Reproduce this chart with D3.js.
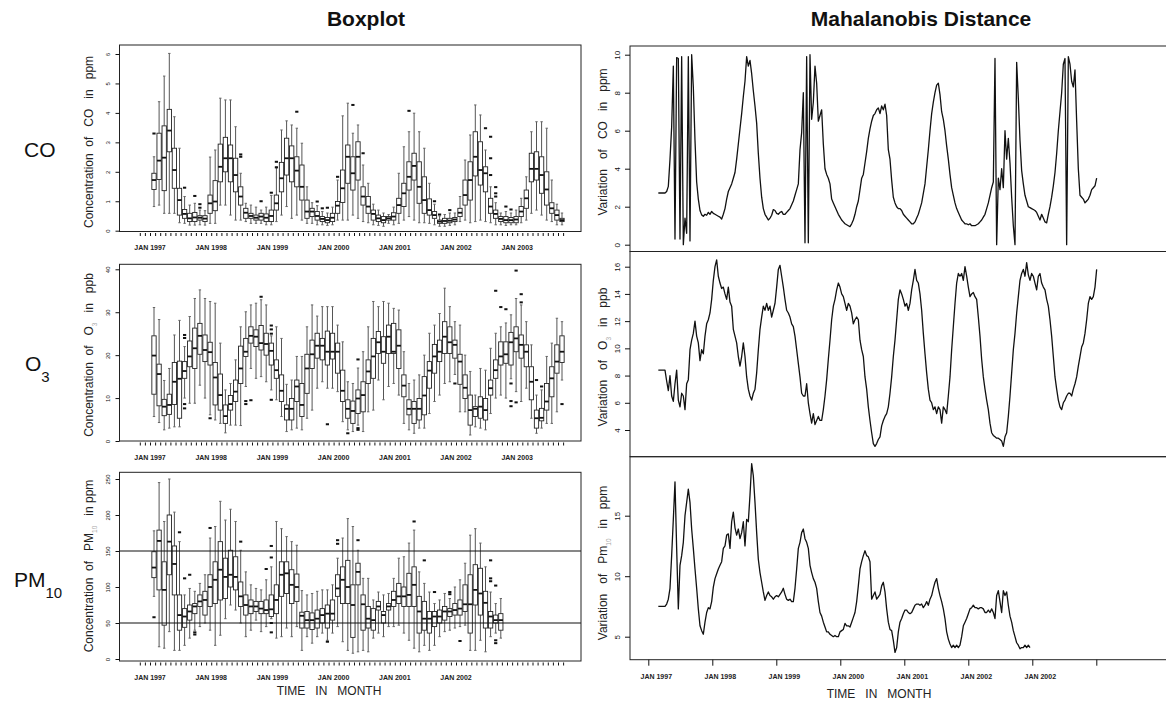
<!DOCTYPE html>
<html>
<head>
<meta charset="utf-8">
<script src="https://cdn.jsdelivr.net/npm/d3@7/dist/d3.min.js"></script>
<style>
html, body { margin: 0; padding: 0; background: #fff; }
svg { display: block; font-family: "Liberation Sans", Arial, Helvetica, sans-serif; }
.pre { white-space: pre; }
</style>
</head>
<body>
<svg id="fig" width="1166" height="703"></svg>
<script>
// ---------- Monthly boxplot statistics (month 0 = Jan 1997) ----------
// CO, ppm (Jan 1997 - Sep 2003)
const coLow = [0.82,0.87,0.59,0.59,0.59,0.27,0.25,0.19,0.19,0.20,0.19,0.25,
  0.25,0.87,0.87,0.53,0.36,0.36,0.31,0.25,0.25,0.25,0.20,0.20,
  0.31,0.53,0.82,0.42,0.53,0.36,0.25,0.25,0.20,0.20,0.18,0.20,
  0.36,0.36,0.36,0.53,0.42,0.31,0.27,0.20,0.18,0.15,0.25,0.20,
  0.25,0.36,0.48,0.36,0.27,0.27,0.25,0.20,0.15,0.15,0.18,0.20,
  0.31,0.36,0.27,0.31,0.36,0.31,0.27,0.20,0.20,0.18,0.20,0.20,
  0.27,0.36,0.59,0.70,0.53,0.36,0.31,0.20,0.20];
const coQ1 = [1.40,1.74,1.36,2.68,1.44,0.53,0.42,0.31,0.31,0.36,0.31,0.59,
  0.68,1.66,2.00,1.66,1.32,0.87,0.42,0.42,0.36,0.36,0.31,0.31,
  0.70,1.32,1.89,1.66,1.49,1.04,0.42,0.48,0.36,0.31,0.27,0.31,
  0.59,0.96,1.61,1.38,1.72,0.87,0.59,0.36,0.31,0.27,0.36,0.36,
  0.59,0.82,1.38,1.72,0.93,0.59,0.53,0.42,0.25,0.25,0.27,0.31,
  0.48,0.87,1.04,1.86,1.55,1.32,0.59,0.42,0.31,0.27,0.27,0.27,
  0.48,0.76,1.66,1.72,1.27,0.87,0.59,0.36,0.31];
const coMed = [1.72,2.38,2.48,3.40,2.06,1.04,0.57,0.42,0.45,0.44,0.41,0.93,
  0.99,2.17,2.46,2.46,1.89,1.16,0.61,0.50,0.44,0.48,0.44,0.50,
  0.93,1.78,2.46,2.46,2.04,1.49,0.65,0.65,0.50,0.40,0.36,0.44,
  0.85,1.44,2.51,1.95,2.51,1.16,0.82,0.57,0.42,0.36,0.42,0.48,
  0.87,1.27,1.83,2.20,1.49,1.04,0.70,0.53,0.31,0.33,0.34,0.38,
  0.61,1.21,1.72,2.51,2.06,1.95,0.82,0.57,0.40,0.36,0.36,0.38,
  0.65,1.10,2.10,2.10,1.89,1.40,0.76,0.53,0.36];
const coQ3 = [1.95,3.31,3.56,4.12,2.80,1.44,0.72,0.59,0.62,0.51,0.51,1.21,
  1.70,2.94,3.17,2.91,2.46,1.49,0.76,0.59,0.53,0.59,0.57,0.70,
  1.21,2.32,3.14,2.88,2.51,2.23,1.04,0.76,0.65,0.48,0.45,0.59,
  0.99,2.06,2.91,2.51,3.02,1.49,1.16,0.70,0.53,0.48,0.48,0.61,
  1.10,1.61,2.34,2.63,2.34,1.83,1.08,0.65,0.36,0.42,0.42,0.45,
  0.76,1.72,2.34,3.36,3.02,2.17,1.10,0.70,0.48,0.48,0.45,0.48,
  0.82,1.38,2.63,2.68,2.51,2.00,0.95,0.70,0.42];
const coHigh = [2.51,4.38,5.25,6.02,3.87,2.80,1.16,0.87,0.93,0.70,0.68,2.50,
  2.74,4.50,4.44,4.44,3.53,1.95,0.93,0.87,0.80,0.70,0.80,1.20,
  2.17,3.42,3.73,3.59,3.48,2.97,1.49,0.95,0.85,0.65,0.60,0.80,
  1.72,3.90,4.33,3.31,3.59,2.23,1.61,0.90,0.70,0.60,0.55,0.80,
  1.95,2.85,3.36,3.99,3.36,2.80,1.61,0.90,0.50,0.55,0.60,0.60,
  1.16,2.40,3.25,4.27,3.93,2.74,1.49,0.95,0.60,0.65,0.60,0.70,
  1.10,1.83,3.36,3.70,3.70,3.48,1.72,0.90,0.60];
const coOutliers = [[0,3.30],[6,1.46],[8,1.18],[9,0.90],[9,0.78],[17,2.59],[17,2.51],
  [21,1.00],[23,1.29],[24,2.34],[24,2.15],[28,4.04],[32,0.99],[33,0.76],[34,0.78],
  [36,1.83],[39,4.27],[41,2.63],[50,4.07],[55,1.00],[56,0.55],[58,0.70],
  [65,3.48],[66,3.19],[66,2.46],[66,1.89],[67,1.48],[67,1.27],[67,1.16],[69,0.82],[70,0.72]];

// O3, ppb (Jan 1997 - Sep 2003)
const o3Low = [5.7,4.3,2.6,3.0,3.3,3.3,10.0,8.8,8.8,13.0,10.0,6.1,
  4.9,4.1,1.9,3.7,3.7,3.6,12.7,16.9,14.6,15.0,13.8,11.9,
  9.6,5.7,2.2,2.6,3.0,2.6,5.3,7.2,12.3,13.8,12.3,12.3,
  11.5,4.5,2.6,2.2,3.7,2.2,6.8,7.2,14.2,9.6,12.7,13.4,
  10.7,4.1,2.6,1.8,3.0,3.0,6.4,9.2,10.7,13.4,13.8,15.5,
  6.8,6.8,1.4,3.3,3.0,2.6,6.4,10.0,10.7,10.0,14.5,11.5,
  9.2,12.3,5.3,1.8,3.0,4.1,4.1,6.8,14.2];
const o3Q1 = [10.9,8.2,5.9,6.2,8.5,5.3,14.6,17.3,16.9,20.2,18.5,17.7,
  8.4,7.2,4.1,7.2,9.2,13.4,19.7,22.8,22.0,21.2,20.0,17.7,
  14.6,9.2,4.9,4.9,9.2,5.7,11.1,16.9,19.3,18.9,17.7,19.1,
  15.8,9.2,5.3,4.1,6.4,6.8,13.4,14.6,20.4,18.1,20.4,20.4,
  16.9,10.3,6.1,4.1,4.9,6.1,12.3,15.8,18.5,20.4,20.4,19.3,
  13.2,9.9,3.7,5.7,5.3,4.9,10.7,14.6,17.7,18.1,17.7,20.8,
  19.3,17.3,9.6,3.0,4.7,7.2,10.3,15.8,18.3];
const o3Med = [19.9,15.6,8.0,8.4,13.8,14.5,16.3,19.7,21.6,24.5,21.2,20.7,
  14.8,10.7,5.8,8.6,11.5,16.9,20.8,24.5,24.3,22.8,22.6,21.0,
  16.5,11.7,7.5,7.5,12.7,8.4,16.9,20.2,22.2,22.2,20.8,20.8,
  20.8,11.7,7.5,7.0,9.9,10.7,16.2,19.7,23.0,20.8,24.3,20.8,
  22.2,12.9,7.5,7.5,7.5,10.6,16.4,19.7,20.8,24.3,23.0,22.4,
  18.5,12.4,7.2,7.5,8.0,7.2,12.3,16.5,19.7,20.2,23.0,23.9,
  22.4,20.8,13.8,5.3,5.4,9.2,14.6,18.5,20.8];
const o3Q3 = [24.5,17.9,9.7,10.9,18.3,18.6,18.5,23.3,26.3,27.4,24.7,23.0,
  18.3,15.6,8.4,10.6,14.2,22.1,23.9,26.6,25.9,26.9,25.1,22.8,
  18.9,15.4,8.4,9.9,14.2,13.4,20.2,23.5,25.1,23.9,25.6,25.1,
  22.8,16.5,9.6,9.3,11.9,13.8,18.9,23.9,25.5,24.3,27.0,27.4,
  25.9,15.4,9.6,9.2,9.9,15.0,18.5,22.5,23.5,27.8,26.6,23.5,
  20.2,15.4,10.7,8.0,10.3,9.9,14.2,18.9,23.1,23.1,25.3,26.6,
  24.7,22.4,17.3,7.2,7.6,13.4,17.3,22.4,24.5];
const o3High = [31.1,28.3,14.1,16.9,24.7,28.1,22.0,29.0,33.2,35.2,33.2,32.5,
  32.1,22.8,11.9,13.4,18.9,26.6,30.1,31.7,32.1,32.9,31.7,24.5,
  26.6,23.9,13.2,14.2,19.7,19.7,26.6,31.7,29.1,31.3,31.3,31.3,
  27.0,23.1,13.8,13.4,17.0,20.8,26.6,32.5,31.3,32.5,32.1,30.9,
  30.5,20.8,13.4,14.2,15.4,20.0,25.1,27.0,29.7,35.6,31.3,27.8,
  27.0,20.0,16.2,10.7,16.9,16.5,21.6,25.1,26.6,27.5,29.4,33.2,
  31.7,27.8,22.4,10.7,11.9,19.7,22.8,28.6,27.8];
const o3Outliers = [[6,24.7],[6,24.0],[6,8.6],[6,7.6],[11,5.3],[18,9.3],[18,8.6],[19,9.5],
  [21,33.6],[23,26.9],[23,26.0],[23,25.0],[23,9.6],[34,3.9],[38,1.8],[40,19.0],[40,3.0],[40,2.6],
  [59,13.4],[67,35.0],[68,31.2],[69,30.7],[70,13.4],[70,9.3],[70,8.1],[71,39.7],[71,9.0],
  [72,34.2],[72,32.3],[75,14.2],[76,12.7],[80,8.6]];

// PM10 (Jan 1997 - Sep 2002)
const pmLow = [87,17,15,38,12,12,19,29,40,45,50,40,
  19,33,56,75,68,50,31,40,54,38,45,56,
  29,31,43,31,45,12,31,22,31,36,26,36,
  45,24,12,8,10,12,10,29,36,31,45,45,
  47,36,26,15,10,19,12,19,31,38,40,43,
  45,47,12,12,26,10,31,36,29];
const pmQ1 = [113,96,47,117,89,40,44,54,63,73,61,73,
  77,82,84,100,96,73,61,63,66,63,63,59,
  63,87,91,77,80,43,43,41,43,50,43,54,
  87,77,77,30,103,40,43,40,68,50,68,73,
  77,73,73,73,36,40,36,45,50,54,59,61,
  61,66,36,75,61,43,43,50,40];
const pmMed = [127,164,96,163,132,61,59,66,73,80,82,100,
  110,124,114,117,114,87,75,73,73,70,68,69,
  82,117,119,103,100,60,54,54,56,61,63,63,
  98,110,100,75,121,76,56,54,73,61,73,82,
  87,87,89,103,66,56,56,59,59,66,66,68,
  70,76,76,96,91,78,59,54,54];
const pmQ3 = [149,179,135,200,157,89,70,75,77,89,94,117,
  135,163,140,151,142,107,89,82,80,80,82,89,
  103,135,135,124,118,65,66,64,68,70,75,82,
  117,128,137,103,133,89,73,70,80,66,77,94,
  105,100,119,128,87,80,66,66,68,73,70,77,
  82,103,117,131,126,94,66,61,63];
const pmHigh = [178,245,191,250,204,163,89,98,94,105,117,168,
  184,219,193,208,191,151,121,103,98,96,110,128,
  191,181,170,163,158,95,89,91,94,96,96,103,
  140,168,195,184,151,112,112,82,93,89,91,112,
  140,142,161,179,121,105,93,77,82,91,84,100,
  110,133,172,181,161,128,93,77,84];
const pmOutliers = [[0,58],[5,176],[6,112],[7,117],[8,37],[8,34],[11,182],[17,163],[22,125],
  [23,157],[23,141],[23,50],[23,37],[34,24],[36,165],[36,160],[40,165],[51,191],[53,137],
  [55,93],[58,93],[58,90],[60,25],[66,137],[66,112],[66,108],[67,102],[67,26],[67,22]];
const pmLimits = [50, 150];

// ---------- Mahalanobis distance series (sampled every 0.3125 month) ----------
const distStartMonth = 1.88;
const distStepMonths = 0.3125;
const coDistance = [2.72,2.72,2.72,2.72,2.72,2.8,3.07,4.5,6.2,9.4,
  0.3,9.85,9.8,0.3,9.9,0.0,1.4,0.6,9.9,0.2,
  10.0,8.3,5.5,3.3,2.4,1.8,1.57,1.5,1.6,1.55,
  1.7,1.6,1.75,1.65,1.6,1.55,1.5,1.45,1.35,1.6,
  1.9,2.4,2.8,3.0,3.2,3.5,3.8,4.5,5.3,6.1,
  6.9,7.8,8.6,9.9,9.4,9.7,9.0,8.1,7.3,6.4,
  4.8,3.5,2.5,1.9,1.6,1.45,1.3,1.4,1.55,1.85,
  1.8,1.65,1.6,1.7,1.75,1.6,1.6,1.7,1.8,1.9,
  2.1,2.3,2.6,2.9,3.2,5.0,5.9,8.0,0.1,9.9,
  0.1,10.0,6.6,7.5,9.4,8.5,6.5,6.8,7.1,5.3,
  4.0,3.7,3.5,3.2,2.4,2.2,2.0,1.8,1.6,1.45,
  1.3,1.2,1.1,1.05,1.0,0.95,1.1,1.3,1.6,2.0,
  2.3,2.9,3.5,3.7,4.3,4.9,5.6,6.1,6.5,6.8,
  6.9,7.1,7.2,6.9,7.3,7.1,7.4,6.8,5.0,4.5,
  3.4,2.5,2.2,2.0,1.9,1.9,1.8,1.6,1.5,1.4,
  1.3,1.2,1.1,1.1,1.2,1.4,1.6,1.9,2.2,2.7,
  3.2,4.1,5.0,6.0,6.9,7.5,8.0,8.4,8.5,7.9,
  7.0,6.6,6.0,5.2,4.5,3.7,3.0,2.6,2.2,1.9,
  1.7,1.5,1.3,1.2,1.1,1.1,1.05,1.1,1.0,1.0,
  1.0,1.05,1.1,1.2,1.3,1.45,1.6,1.9,2.2,2.6,
  3.0,3.3,9.8,0.0,3.5,2.9,4.0,3.0,6.0,4.5,
  5.6,4.3,2.5,1.0,0.0,9.6,7.7,5.5,3.9,3.2,
  2.6,2.3,2.0,1.95,1.9,1.85,1.8,1.7,1.5,1.3,
  1.6,1.4,1.2,1.15,1.6,2.0,2.5,3.1,3.8,4.8,
  6.0,7.0,8.0,9.5,9.8,0.0,9.9,9.5,8.6,8.3,
  9.2,6.5,4.0,2.6,2.5,2.4,2.2,2.3,2.4,2.6,
  2.9,3.0,3.1,3.5];
const o3Distance = [8.4,8.4,8.4,8.4,8.4,7.6,6.9,8.0,6.5,6.1,
  7.4,8.4,6.2,5.7,6.7,6.5,5.5,7.4,7.7,9.9,
  10.6,11.1,12.0,10.9,10.4,9.1,9.9,9.6,10.9,11.8,
  12.1,12.6,13.6,15.0,16.0,16.5,15.3,14.8,14.4,14.5,
  14.0,13.6,14.5,13.4,13.1,11.4,10.9,10.4,9.4,8.7,
  9.4,10.4,9.4,7.9,7.0,6.5,6.2,6.7,7.0,8.2,
  9.9,11.4,12.3,13.1,12.8,13.3,12.8,13.1,12.3,12.8,
  13.3,14.5,15.8,16.1,15.3,14.5,13.6,12.8,12.6,12.3,
  11.8,11.6,10.9,9.9,8.9,7.9,6.7,6.5,6.5,7.4,
  6.0,5.2,4.5,5.2,4.4,4.7,5.0,4.7,4.7,5.5,
  6.5,7.7,9.2,10.6,12.1,13.1,13.6,14.3,14.8,14.5,
  14.0,13.8,13.3,12.8,13.3,13.1,12.6,11.8,12.1,12.3,
  12.1,10.6,9.9,9.4,7.9,7.0,5.7,4.7,3.8,3.0,
  2.8,3.0,3.3,3.5,4.3,4.7,5.0,5.2,5.7,6.7,
  7.9,9.4,10.6,12.1,13.6,14.3,14.0,13.6,13.1,13.3,
  12.8,13.3,14.3,15.0,15.8,15.0,14.8,14.0,12.8,11.1,
  9.6,8.2,7.0,6.2,6.0,5.5,5.7,5.2,5.7,5.5,
  4.5,5.7,5.5,5.2,6.5,7.9,9.9,11.6,13.3,14.8,
  15.5,15.3,15.5,15.0,16.0,15.3,14.5,13.8,14.0,14.1,
  13.8,13.6,12.3,10.9,9.2,7.9,7.0,6.2,5.5,4.5,
  3.8,3.6,3.5,3.4,3.4,3.3,3.2,2.8,3.5,3.8,
  5.0,6.5,8.2,9.9,11.1,12.6,13.8,15.0,15.5,15.8,
  15.3,16.3,15.4,15.0,15.5,15.3,14.8,14.3,15.3,15.5,
  14.8,14.5,14.3,13.6,13.1,12.1,10.9,9.4,7.9,7.0,
  6.2,5.7,5.5,6.0,6.2,6.5,6.7,6.7,6.5,7.0,
  7.4,7.9,8.7,9.4,10.1,10.4,11.1,12.1,13.3,13.8,
  13.6,13.8,14.5,15.8];
const pmDistance = [7.5,7.5,7.5,7.5,7.5,7.7,8.1,9.0,11.7,14.7,
  17.8,12.3,7.3,10.9,11.7,12.8,15.0,16.1,17.2,16.1,
  13.9,12.3,10.6,9.0,7.3,5.9,5.5,5.2,6.2,7.0,
  7.4,7.3,7.9,9.1,9.8,10.2,10.6,10.9,11.2,12.3,
  12.5,13.4,13.5,12.3,14.5,15.3,14.0,13.4,13.9,13.1,
  13.6,14.5,12.5,14.7,14.5,16.7,19.3,18.3,16.1,13.6,
  11.4,10.3,9.5,8.7,8.0,8.4,8.7,8.4,8.3,8.1,
  8.3,8.4,8.3,8.5,8.7,9.0,8.5,8.1,8.0,8.1,
  7.9,7.9,9.0,10.6,12.3,12.8,13.6,13.9,13.1,12.8,
  12.3,10.9,10.3,9.8,9.5,9.0,7.9,7.0,6.7,6.2,
  5.8,5.4,5.4,5.2,5.1,5.0,5.1,5.0,5.0,5.4,
  5.5,5.6,6.1,5.9,5.9,5.8,6.2,6.6,7.0,7.9,
  9.2,10.6,11.2,11.7,12.1,11.7,11.6,11.2,8.1,8.4,
  8.7,8.1,8.3,8.5,9.2,9.5,8.7,7.3,6.2,5.6,
  5.5,4.7,3.7,4.1,5.4,6.2,6.5,6.9,7.2,7.2,
  7.0,6.9,7.0,7.3,7.6,7.7,7.7,7.6,7.7,7.4,
  7.6,7.9,7.6,8.1,8.4,9.0,9.5,9.8,9.0,8.4,
  7.9,7.3,6.5,5.4,4.8,4.4,4.1,4.3,4.1,4.3,
  4.1,4.3,5.0,5.9,6.2,6.5,6.9,7.3,7.4,7.6,
  7.4,7.4,7.3,7.4,7.4,7.3,7.0,7.0,7.2,7.0,
  7.3,7.0,6.5,8.4,8.8,7.9,7.0,8.8,8.4,8.7,
  7.6,6.7,6.2,5.5,5.0,4.5,4.3,4.0,4.1,4.1,
  4.3,4.1,4.3,4.1];

// ---------- Axis labels ----------
const leftYearLabels = ["JAN 1997","JAN 1998","JAN 1999","JAN 2000","JAN 2001","JAN 2002","JAN 2003"];
const pmYearLabels = ["JAN 1997","JAN 1998","JAN 1999","JAN 2000","JAN 2001","JAN 2002"];
const rightYearLabels = ["JAN 1997","JAN 1998","JAN 1999","JAN 2000","JAN 2001","JAN 2002","JAN 2002",""];
const coTicks = [0,1,2,3,4,5,6];
const o3Ticks = [0,10,20,30,40];
const pmTicks = [0,50,100,150,200,250];
const coDistTicks = [0,2,4,6,8,10];
const o3DistTicks = [4,6,8,10,12,14,16];
const pmDistTicks = [5,10,15];

// ---------- Layout ----------
const svg = d3.select("#fig");
const INK = "#111";
const L = { x0: 119.5, x1: 581 };
const R = { x0: 630, x1: 1190 };

const boxX = d3.scaleLinear().domain([0, 80]).range([154, 562]);
const monthTickX = d3.scaleLinear().domain([0, 80]).range([150, 558]);
const distX = d3.scaleLinear().domain([0, 84]).range([648.3, 1096.3]);

function rowsOf(lo, q1, med, q3, hi) {
  return med.map((m, i) => ({ i, lo: lo[i], q1: q1[i], med: m, q3: q3[i], hi: hi[i] }));
}

function styleAxisText(sel, size) {
  sel.attr("font-family", null).attr("font-size", null);
  sel.selectAll("text").attr("font-size", size).attr("fill", INK);
  sel.selectAll("line").attr("stroke", INK);
}

function addTitle(g, x, y, parts, size) {
  const t = g.append("text").attr("class", "pre")
    .attr("transform", `translate(${x},${y}) rotate(-90)`)
    .attr("text-anchor", "middle").attr("font-size", size).attr("fill", "#222");
  parts.forEach(p => {
    const s = t.append("tspan").text(p.t);
    if (p.sub) s.attr("font-size", 6.5).attr("fill", "#aaa").attr("baseline-shift", "sub");
  });
}

function drawBoxPanel(cfg) {
  const g = svg.append("g");
  const y = d3.scaleLinear().domain(cfg.yDomain).range(cfg.yRange);
  const rows = rowsOf(cfg.lo, cfg.q1, cfg.med, cfg.q3, cfg.hi);
  const bw = 4.3, cw = 2.4;

  const box = g.selectAll("g.box").data(rows).join("g").attr("class", "box");
  box.append("line").attr("x1", d => boxX(d.i)).attr("x2", d => boxX(d.i))
    .attr("y1", d => y(d.hi)).attr("y2", d => y(d.q3)).attr("stroke", "#555").attr("stroke-width", 1);
  box.append("line").attr("x1", d => boxX(d.i)).attr("x2", d => boxX(d.i))
    .attr("y1", d => y(d.q1)).attr("y2", d => y(d.lo)).attr("stroke", "#555").attr("stroke-width", 1);
  box.append("line").attr("x1", d => boxX(d.i) - cw / 2).attr("x2", d => boxX(d.i) + cw / 2)
    .attr("y1", d => y(d.hi)).attr("y2", d => y(d.hi)).attr("stroke", "#666");
  box.append("line").attr("x1", d => boxX(d.i) - cw / 2).attr("x2", d => boxX(d.i) + cw / 2)
    .attr("y1", d => y(d.lo)).attr("y2", d => y(d.lo)).attr("stroke", "#666");
  box.append("rect").attr("x", d => boxX(d.i) - bw / 2).attr("y", d => y(d.q3))
    .attr("width", bw).attr("height", d => Math.max(1, y(d.q1) - y(d.q3)))
    .attr("fill", "#fff").attr("stroke", "#222").attr("stroke-width", 0.9);
  box.append("line").attr("x1", d => boxX(d.i) - bw / 2).attr("x2", d => boxX(d.i) + bw / 2)
    .attr("y1", d => y(d.med)).attr("y2", d => y(d.med)).attr("stroke", INK).attr("stroke-width", 1.8);

  g.selectAll("rect.out").data(cfg.out).join("rect").attr("class", "out")
    .attr("x", d => boxX(d[0]) - 1.6).attr("y", d => y(d[1]) - 1)
    .attr("width", 3.2).attr("height", 2).attr("fill", INK);

  (cfg.refLines || []).forEach(v => {
    g.append("line").attr("x1", L.x0).attr("x2", L.x1).attr("y1", y(v)).attr("y2", y(v))
      .attr("stroke", INK).attr("stroke-width", 1.1);
  });

  // frame
  g.append("rect").attr("x", L.x0).attr("y", cfg.top).attr("width", L.x1 - L.x0)
    .attr("height", cfg.bottom - cfg.top).attr("fill", "none").attr("stroke", "#222").attr("stroke-width", 1);

  // y axis with rotated labels
  const ya = g.append("g").attr("transform", `translate(${L.x0},0)`)
    .call(d3.axisLeft(y).tickValues(cfg.ticks).tickSize(4).tickFormat(d3.format("d")));
  ya.select(".domain").remove();
  styleAxisText(ya, 6);
  ya.selectAll("text").attr("x", 0).attr("y", 0).attr("dy", 0).attr("text-anchor", "middle")
    .attr("transform", "translate(-9.5,0) rotate(-90)");

  // monthly ticks and year labels
  const xa = g.append("g").attr("transform", `translate(0,${cfg.bottom + 1.5})`)
    .call(d3.axisBottom(monthTickX).tickValues(d3.range(-2, 82)).tickSize(3).tickFormat(""));
  xa.select(".domain").remove();
  styleAxisText(xa, 7);
  g.selectAll("text.yr").data(cfg.yearLabels).join("text").attr("class", "yr")
    .attr("x", (d, k) => monthTickX(k * 12)).attr("y", cfg.bottom + 18.5)
    .attr("text-anchor", "middle").attr("font-size", 7).attr("font-weight", "bold")
    .attr("fill", "#222").text(d => d);

  addTitle(g, 93, cfg.titleY, cfg.title, 12);
}

function drawDistancePanel(cfg) {
  const g = svg.append("g");
  const y = d3.scaleLinear().domain(cfg.yDomain).range(cfg.yRange);
  g.append("rect").attr("x", R.x0).attr("y", cfg.top).attr("width", R.x1 - R.x0)
    .attr("height", cfg.bottom - cfg.top).attr("fill", "none").attr("stroke", "#222").attr("stroke-width", 1);

  const line = d3.line()
    .x((d, i) => distX(distStartMonth + i * distStepMonths))
    .y(d => y(d));
  g.append("path").datum(cfg.values).attr("d", line)
    .attr("fill", "none").attr("stroke", INK).attr("stroke-width", 1.3).attr("stroke-linejoin", "round");

  const ya = g.append("g").attr("transform", `translate(${R.x0},0)`)
    .call(d3.axisLeft(y).tickValues(cfg.ticks).tickSize(5).tickFormat(d3.format("d")));
  ya.select(".domain").remove();
  styleAxisText(ya, 8);
  ya.selectAll("text").attr("x", 0).attr("y", 0).attr("dy", 0).attr("text-anchor", "middle")
    .attr("transform", "translate(-10.5,0) rotate(-90)");

  addTitle(g, 607, cfg.titleY, cfg.title, 12);

  if (cfg.xAxis) {
    const xa = g.append("g").attr("transform", `translate(0,${cfg.bottom})`)
      .call(d3.axisBottom(distX).tickValues(d3.range(0, 85, 12)).tickSize(6).tickFormat(""));
    xa.select(".domain").remove();
    styleAxisText(xa, 7);
    g.selectAll("text.yr").data(rightYearLabels).join("text").attr("class", "yr")
      .attr("x", (d, k) => distX(k * 12) + 8).attr("y", cfg.bottom + 19)
      .attr("text-anchor", "middle").attr("font-size", 7).attr("font-weight", "bold")
      .attr("fill", "#222").text(d => d);
  }
}

// ---------- Left column: monthly boxplots ----------
drawBoxPanel({
  top: 45, bottom: 231.5, yDomain: [0, 6], yRange: [230.7, 54], ticks: coTicks,
  lo: coLow, q1: coQ1, med: coMed, q3: coQ3, hi: coHigh, out: coOutliers,
  yearLabels: leftYearLabels, titleY: 142,
  title: [{ t: "Concentration  of   CO   in   ppm" }]
});
drawBoxPanel({
  top: 264.3, bottom: 441, yDomain: [0, 40], yRange: [441, 269.3], ticks: o3Ticks,
  lo: o3Low, q1: o3Q1, med: o3Med, q3: o3Q3, hi: o3High, out: o3Outliers,
  yearLabels: leftYearLabels, titleY: 355,
  title: [{ t: "Concentration  of   O" }, { t: "3", sub: true }, { t: "   in   ppb" }]
});
drawBoxPanel({
  top: 472.3, bottom: 661, yDomain: [0, 250], yRange: [659, 479], ticks: pmTicks,
  lo: pmLow, q1: pmQ1, med: pmMed, q3: pmQ3, hi: pmHigh, out: pmOutliers, refLines: pmLimits,
  yearLabels: pmYearLabels, titleY: 566,
  title: [{ t: "Concentration  of   PM" }, { t: "10", sub: true }, { t: "   in ppm" }]
});

// ---------- Right column: Mahalanobis distance ----------
drawDistancePanel({
  top: 46, bottom: 251.5, yDomain: [0, 10], yRange: [244.7, 54.7], ticks: coDistTicks,
  values: coDistance, titleY: 142, title: [{ t: "Variation   of   CO   in   ppm" }]
});
drawDistancePanel({
  top: 251.5, bottom: 456.7, yDomain: [4, 16], yRange: [430, 266.7], ticks: o3DistTicks,
  values: o3Distance, titleY: 357,
  title: [{ t: "Variation   of   O" }, { t: "3", sub: true }, { t: "   in   ppb" }]
});
drawDistancePanel({
  top: 456.7, bottom: 659.7, yDomain: [5, 15], yRange: [636.7, 515.7], ticks: pmDistTicks,
  values: pmDistance, titleY: 563, xAxis: true,
  title: [{ t: "Variation   of   Pm" }, { t: "10", sub: true }, { t: "   in   ppm" }]
});

// ---------- Column titles, row labels, x titles ----------
svg.append("text").attr("x", 366).attr("y", 26).attr("text-anchor", "middle")
  .attr("font-size", 21).attr("font-weight", "bold").attr("fill", INK).text("Boxplot");
svg.append("text").attr("x", 921).attr("y", 26).attr("text-anchor", "middle")
  .attr("font-size", 21).attr("font-weight", "bold").attr("fill", INK).text("Mahalanobis Distance");

const rowLabels = [
  { main: "CO", sub: "", x: 24, y: 157 },
  { main: "O", sub: "3", x: 25, y: 371 },
  { main: "PM", sub: "10", x: 14, y: 587 }
];
rowLabels.forEach(r => {
  const t = svg.append("text").attr("x", r.x).attr("y", r.y).attr("font-size", 21).attr("fill", INK);
  t.append("tspan").text(r.main);
  if (r.sub) t.append("tspan").attr("font-size", 15).attr("dy", 11).text(r.sub);
});

svg.append("text").attr("class", "pre").attr("x", 329).attr("y", 695).attr("text-anchor", "middle")
  .attr("font-size", 12).attr("fill", "#222").text("TIME   IN   MONTH");
svg.append("text").attr("class", "pre").attr("x", 879).attr("y", 698).attr("text-anchor", "middle")
  .attr("font-size", 12).attr("fill", "#222").text("TIME   IN   MONTH");
</script>
</body>
</html>
